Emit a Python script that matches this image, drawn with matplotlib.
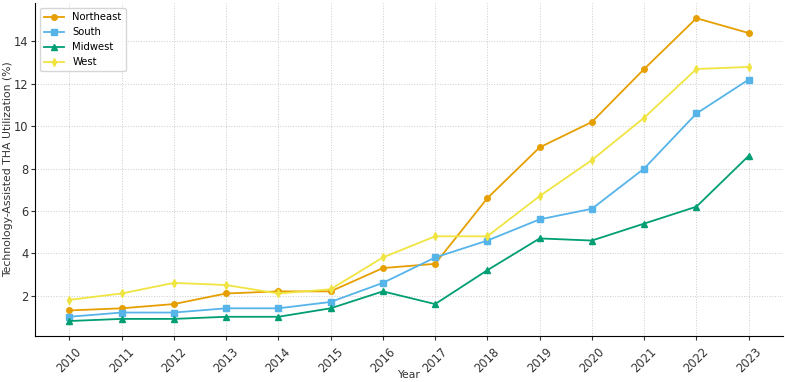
import matplotlib
matplotlib.use("Agg")
import matplotlib.pyplot as plt

years = list(range(2010, 2024))
northeast = [1.3, 1.4, 1.6, 2.1, 2.2, 2.2, 3.3, 3.5, 6.6, 9.0, 10.2, 12.7, 15.1, 14.4]
south = [1.0, 1.2, 1.2, 1.4, 1.4, 1.7, 2.6, 3.8, 4.6, 5.6, 6.1, 8.0, 10.6, 12.2]
midwest = [0.8, 0.9, 0.9, 1.0, 1.0, 1.4, 2.2, 1.6, 3.2, 4.7, 4.6, 5.4, 6.2, 8.6]
west = [1.8, 2.1, 2.6, 2.5, 2.1, 2.3, 3.8, 4.8, 4.8, 6.7, 8.4, 10.4, 12.7, 12.8]

plt.rcParams["font.size"] = 8

fig, ax = plt.subplots(figsize=(7.85, 3.82), dpi=100)

ax.plot(years, northeast, "o-", color="#E69F00", ms=4, lw=1.3, label="Northeast")
ax.plot(years, south, "s-", color="#56B4E9", ms=4, lw=1.3, label="South")
ax.plot(years, midwest, "^-", color="#009E73", ms=4, lw=1.3, label="Midwest")
ax.plot(years, west, "d-", color="#F0E442", ms=4, lw=1.3, label="West")

ax.set_xticks(years)
ax.set_xticklabels([str(y) for y in years], rotation=45)
ax.set_yticks([2, 4, 6, 8, 10, 12, 14])
ax.tick_params(labelsize=8.3, colors="#333333", length=3)
ax.tick_params(axis="y", pad=2)
ax.set_xlabel("Year", fontsize=7.8, color="#333333", va="center")
ax.xaxis.set_label_coords(0.5, -0.117)
ax.set_ylabel("Technology-Assisted THA Utilization (%)", fontsize=7.8,
              color="#333333", va="center")
ax.yaxis.set_label_coords(-0.037, 0.5)
ax.grid(True, linestyle=":", color="#cccccc", lw=0.7)
ax.spines["top"].set_visible(False)
ax.spines["right"].set_visible(False)
ax.legend(loc="upper left", fontsize=7.2)

fig.subplots_adjust(left=0.045, right=0.997, top=0.992, bottom=0.12)
fig.savefig("out.png", dpi=100)
